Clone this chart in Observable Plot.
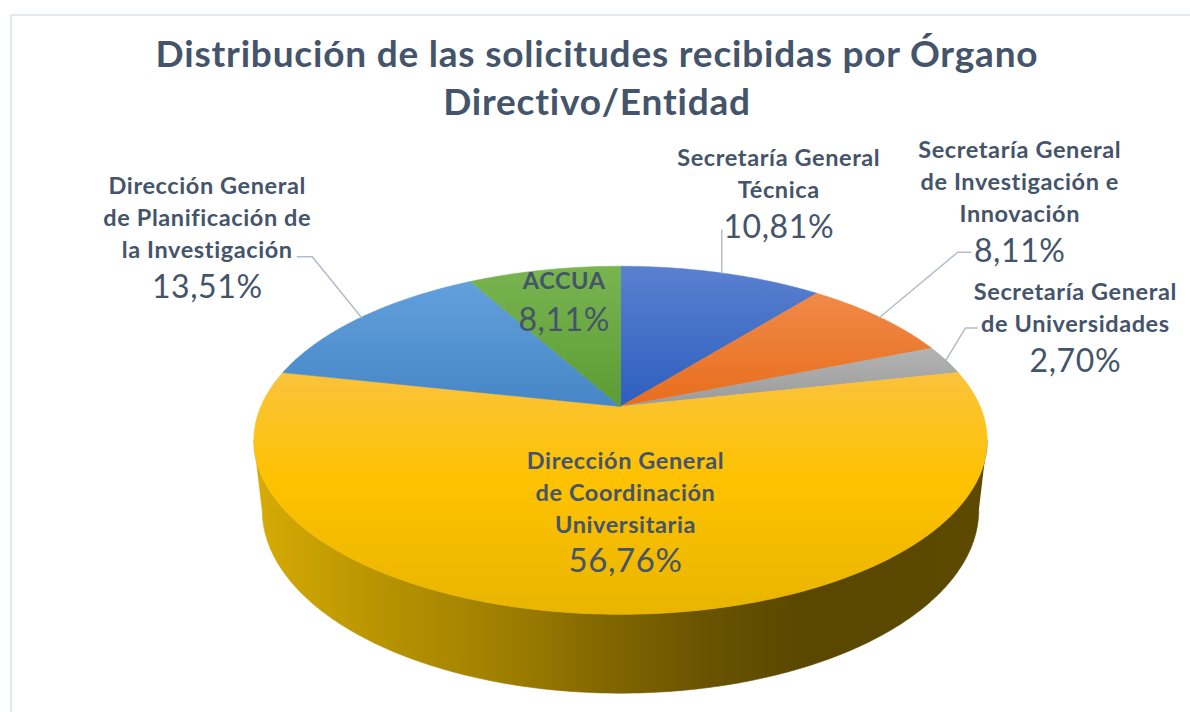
<!DOCTYPE html>
<html><head><meta charset="utf-8">
<script src="https://cdn.jsdelivr.net/npm/d3@7"></script>
<script src="https://cdn.jsdelivr.net/npm/@observablehq/plot@0.6"></script>
<style>
body{margin:0;background:#fff;}
#wrap{position:relative;width:1190px;height:712px;overflow:hidden;background:#fff;}
#frame{position:absolute;left:10px;top:14px;width:1300px;height:800px;border-left:2px solid #e3e7ee;border-top:2px solid #e3e7ee;box-sizing:border-box;}
#title{position:absolute;left:0;top:29px;width:1194px;text-align:center;font-family:Lato,"Open Sans",sans-serif;font-weight:700;font-size:37px;letter-spacing:0.8px;line-height:48px;color:#44546a;}
#chart{position:absolute;left:0;top:130px;}
#chart text{letter-spacing:0.6px;}
</style></head>
<body><div id="wrap"><div id="frame"></div>
<div id="title">Distribución de las solicitudes recibidas por Órgano<br>Directivo/Entidad</div>
<div id="chart"></div></div>
<script>
// ---- data ----
const categories = [
  "Secretaría General Técnica",
  "Secretaría General de Investigación e Innovación",
  "Secretaría General de Universidades",
  "Dirección General de Coordinación Universitaria",
  "Dirección General de Planificación de la Investigación",
  "ACCUA"
];
const nameLines = [
  ["Secretaría General", "Técnica"],
  ["Secretaría General", "de Investigación e", "Innovación"],
  ["Secretaría General", "de Universidades"],
  ["Dirección General", "de Coordinación", "Universitaria"],
  ["Dirección General", "de Planificación de", "la Investigación"],
  ["ACCUA"]
];
const shares = [10.81, 8.11, 2.70, 56.76, 13.51, 8.11];
const topColors = ["#5a80d0", "#f08a48", "#b3b3b3", "#fac33c", "#62a0dc", "#79b450"];
const bottomColors = ["#2d5fbf", "#e86d1c", "#9a9a9a", "#e9b500", "#4686c6", "#5c9c34"];

// ---- layout (label offsets from slice edge point, px) ----
const labelOffset = [[57, -75], [140, -95], [129.5, -28], [5, -81], [-154, -59.5], [20, 18.6]];
const pctGap = [40, 40, 40, 39, 40, 42];
const pctSize = [32, 32, 32, 33, 32, 32];
const leaderElbow = [[0, -43], [78, -65], [19.5, -32], null, [-49, -60.5], null];
const leaderEnd = [[0, -43], [91, -65], [31.5, -32], null, [-64, -60.5], null];

// ---- perspective projection of a tilted disk ----
const CX = 620, CY = 406, F = 1640, L = 4.56, CA = 0.885, SA = Math.sqrt(1 - CA * CA), H = 0.22;
function proj(phi, r = 1, h = 0) {
  const X = r * Math.sin(phi), Z = -r * Math.cos(phi), Y = -h;
  const depth = L - Y * SA - Z * CA;
  return [CX + F * X / depth, CY - F * (Y * CA - Z * SA) / depth];
}

const arcs = d3.pie().sort(null).value(d => d)(shares);
const mid = a => (a.startAngle + a.endAngle) / 2;

// side band (front of cylinder)
const phiS = Math.acos(-CA / L);
const side = [];
const NS = 240;
for (let k = 0; k <= NS; k++) { const p = phiS + (2 * Math.PI - 2 * phiS) * k / NS; const [x, y] = proj(p, 1, 0); side.push({x, y}); }
for (let k = NS; k >= 0; k--) { const p = phiS + (2 * Math.PI - 2 * phiS) * k / NS; const [x, y] = proj(p, 1, H); side.push({x, y}); }

// top faces
const faces = arcs.map((a, i) => {
  const pts = [{x: CX, y: CY}];
  const n = Math.max(4, Math.ceil((a.endAngle - a.startAngle) / (Math.PI / 360)));
  for (let k = 0; k <= n; k++) {
    const p = a.startAngle + (a.endAngle - a.startAngle) * k / n;
    const [x, y] = proj(p); pts.push({x, y});
  }
  pts.push({x: CX, y: CY});
  return pts;
});

// labels
const fmt = v => d3.format(".2f")(v).replace(".", ",") + "%";
const labels = arcs.map((a, i) => {
  const [ex, ey] = proj(mid(a));
  const x = ex + labelOffset[i][0], y = ey + labelOffset[i][1];
  return {name: nameLines[i].join("\n"), pct: fmt(shares[i]), x, y, py: y + pctGap[i], ps: pctSize[i]};
});
const leaders = [];
arcs.forEach((a, i) => {
  if (!leaderEnd[i]) return;
  const [ex, ey] = proj(mid(a));
  leaders.push({id: i, x: ex, y: ey});
  leaders.push({id: i, x: ex + leaderElbow[i][0], y: ey + leaderElbow[i][1]});
  leaders.push({id: i, x: ex + leaderEnd[i][0], y: ey + leaderEnd[i][1]});
});

const textColor = "#44546a";
const marks = [
  Plot.line(side, {x: "x", y: "y", fill: "url(#sideGrad)", stroke: "url(#sideGrad)", strokeWidth: 0.6, curve: "linear"}),
  ...faces.map((pts, i) => Plot.line(pts, {x: "x", y: "y", fill: `url(#g${i})`, stroke: `url(#g${i})`, strokeWidth: 0.6})),
  Plot.line(leaders, {x: "x", y: "y", z: "id", stroke: "#b3bdc9", strokeWidth: 1.5}),
  Plot.text(labels, {x: "x", y: "y", text: "name", lineAnchor: "bottom", lineHeight: 32 / 23.5, fontSize: 23.5, fontWeight: 700, fill: textColor, textAnchor: "middle"}),
  ...labels.map(d => Plot.text([d], {x: "x", y: "py", text: "pct", lineAnchor: "bottom", fontSize: d.ps, fill: textColor, textAnchor: "middle"}))
];

const svg = Plot.plot({
  width: 1190, height: 582,
  margin: 0,
  x: {type: "linear", domain: [0, 1190], range: [0, 1190], axis: null},
  y: {type: "linear", domain: [130, 712], range: [0, 582], axis: null},
  style: {fontFamily: "Lato, 'Open Sans', sans-serif", background: "transparent", overflow: "visible"},
  marks
});

// gradients
const defs = d3.select(svg).insert("defs", ":first-child");
const sg = defs.append("linearGradient").attr("id", "sideGrad").attr("gradientUnits", "userSpaceOnUse")
  .attr("x1", 253).attr("x2", 987).attr("y1", 0).attr("y2", 0);
[[0, "#d8ab06"], [0.1, "#c49e02"], [0.2, "#b49000"], [0.34, "#9f7f00"], [0.47, "#846800"], [0.61, "#6a5400"], [0.75, "#5a4700"], [1, "#5d4a00"]]
  .forEach(([o, c]) => sg.append("stop").attr("offset", o).attr("stop-color", c));
topColors.forEach((c, i) => {
  const g = defs.append("linearGradient").attr("id", `g${i}`).attr("x1", 0).attr("x2", 0).attr("y1", 0).attr("y2", 1);
  g.append("stop").attr("offset", 0).attr("stop-color", c);
  if (i === 3) g.append("stop").attr("offset", 0.45).attr("stop-color", "#fec200");
  g.append("stop").attr("offset", 1).attr("stop-color", bottomColors[i]);
});

document.getElementById("chart").appendChild(svg);
</script>
</body></html>
